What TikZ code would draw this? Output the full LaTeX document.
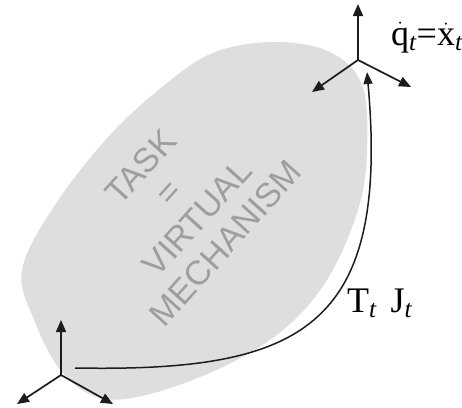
\documentclass[tikz,border=0pt]{standalone}
\usepackage{xcolor}
\usepackage{amsmath}
\usepackage{fontspec}
\setmainfont{Liberation Serif}
\setsansfont{Liberation Sans}
\usetikzlibrary{arrows.meta}
\definecolor{blobgray}{RGB}{222,222,222}
\definecolor{taskgray}{RGB}{158,158,158}
\definecolor{axisdark}{RGB}{28,28,28}

\tikzset{
  frameaxis/.style={draw=axisdark, line width=1.7pt, -{Triangle[length=12pt,width=10pt]}},
  mapcurve/.style={draw=axisdark, line width=1.5pt, -{Triangle[length=12pt,width=9pt]}},
  framelabel/.style={font=\fontsize{36}{40}\selectfont, inner sep=0pt, anchor=base west}
}

\begin{document}
\begin{tikzpicture}[x=1pt,y=-1pt]

\useasboundingbox (0,0) rectangle (462,407);

% virtual mechanism region
\fill[blobgray] plot[smooth cycle, tension=0.6] coordinates {
  (275,42) (330,52) (362,85) (367,150) (358,210) (327,280) (283,330)
  (223,367) (150,394) (100,398) (62,372) (35,322) (22,270) (55,205)
  (110,135) (167,83) (215,52)};

\node[taskgray, rotate=48, align=center, inner sep=0pt,
      font=\sffamily\fontsize{34}{38}\selectfont] (task) at (183,205)
  {TASK\\=\\VIRTUAL\\MECHANISM};

% base frame
\coordinate (baseO) at (61,375);
\coordinate (baseUp) at (61,320);
\coordinate (baseL) at (17,404);
\coordinate (baseR) at (113,404);
\draw[frameaxis] (baseO) -- (baseUp);
\draw[frameaxis] (baseO) -- (baseL);
\draw[frameaxis] (baseO) -- (baseR);

% task frame
\coordinate (tipO) at (358,60);
\coordinate (tipUp) at (358,4);
\coordinate (tipL) at (312,92);
\coordinate (tipR) at (411,87);
\draw[frameaxis] (tipO) -- (tipUp);
\draw[frameaxis] (tipO) -- (tipL);
\draw[frameaxis] (tipO) -- (tipR);

% transformation
\coordinate (curveS) at (75,368);
\coordinate (curveE) at (367,72);
\draw[mapcurve] (curveS) .. controls (300,372) and (390,330) .. (curveE);

\node[framelabel] (qdot) at (391,45)
  {$\dot{\mathrm{q}}_{\textit{t}}$=$\dot{\mathrm{x}}_{\textit{t}}$};
\node[framelabel] (tj) at (347,312)
  {T$_{\textit{t}}$\hspace{14pt}J$_{\textit{t}}$};

\end{tikzpicture}
\end{document}
